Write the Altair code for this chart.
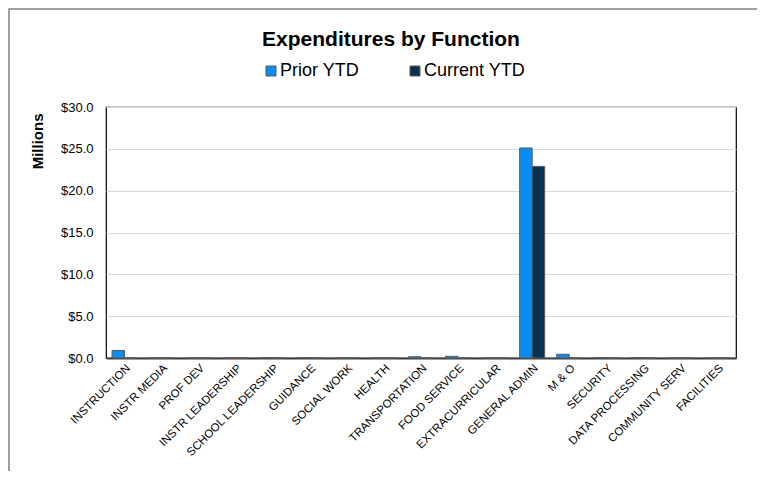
import altair as alt
import pandas as pd

categories = ["INSTRUCTION", "INSTR MEDIA", "PROF DEV", "INSTR LEADERSHIP", "SCHOOL LEADERSHIP",
              "GUIDANCE", "SOCIAL WORK", "HEALTH", "TRANSPORTATION", "FOOD SERVICE",
              "EXTRACURRICULAR", "GENERAL ADMIN", "M & O", "SECURITY", "DATA PROCESSING",
              "COMMUNITY SERV", "FACILITIES"]
prior_ytd = [0.9, 0.0, 0.0, 0.0, 0.04, 0.04, 0.0, 0.0, 0.15, 0.2, 0.0, 25.1, 0.45, 0.06, 0.06, 0.0, 0.0]
current_ytd = [0.0, 0.0, 0.0, 0.0, 0.0, 0.0, 0.0, 0.0, 0.0, 0.0, 0.0, 22.9, 0.0, 0.0, 0.0, 0.0, 0.0]
series = ["Prior YTD", "Current YTD"]
colors = ["#0a8cf5", "#0b3152"]
y_ticks = [0, 5, 10, 15, 20, 25, 30]

rows = []
for c, p, q in zip(categories, prior_ytd, current_ytd):
    rows.append({"Function": c, "Series": series[0], "Value": p})
    rows.append({"Function": c, "Series": series[1], "Value": q})
df = pd.DataFrame(rows)

FONT = "Liberation Sans"

bars = alt.Chart(df).mark_bar(stroke="#5a5a5a", strokeWidth=1).encode(
    x=alt.X("Function:N", sort=categories,
            scale=alt.Scale(paddingInner=0.325, paddingOuter=0.1625),
            axis=alt.Axis(title=None, labelAngle=-45, labelFontSize=11.5, labelFont=FONT,
                          labelColor="#000000", ticks=False, domain=True, domainColor="#404040",
                          domainWidth=2, labelPadding=4, labelOverlap=False, labelLimit=200)),
    xOffset=alt.XOffset("Series:N", sort=series, scale=alt.Scale(paddingInner=0, paddingOuter=0)),
    y=alt.Y("Value:Q", scale=alt.Scale(domain=[0, 30], nice=False),
            axis=alt.Axis(title="Millions", titleFont=FONT, titleFontSize=15, titleFontWeight="bold",
                          titleColor="#000000", values=y_ticks, format="$.1f",
                          labelFont=FONT, labelFontSize=13, labelColor="#000000", ticks=False,
                          domain=False, gridColor="#d9d9d9", gridWidth=1, labelPadding=13,
                          titleAnchor="end", titleAlign="right", titleX=-61, titleY=6)),
    color=alt.Color("Series:N", sort=series, scale=alt.Scale(domain=series, range=colors),
                    legend=alt.Legend(title=None, orient="none", direction="horizontal",
                                      legendX=156, legendY=-45, symbolType="square", symbolSize=100,
                                      symbolStrokeColor="#5a5a5a", symbolStrokeWidth=1,
                                      labelFont=FONT, labelFontSize=18, labelColor="#000000",
                                      columnPadding=46, labelOffset=0)),
)

frame = alt.Chart(pd.DataFrame({"a": [0]})).mark_rect(
    filled=False, fill="transparent", stroke="#808080", strokeWidth=1.5
).encode(x=alt.value(-97), x2=alt.value(900), y=alt.value(-98), y2=alt.value(600))

chart = alt.layer(frame, bars).properties(
    width=630, height=251,
    title=alt.TitleParams("Expenditures by Function", font=FONT, fontSize=21, fontWeight="bold",
                          color="#000000", anchor="middle", frame="group", dx=-30, offset=-42),
    padding={"left": 98, "top": 99, "right": 21, "bottom": 113},
    autosize=alt.AutoSizeParams(type="none"),
).configure_view(stroke="#000000", strokeWidth=1.2)

chart.save("out.html", embed_options={"renderer": "svg", "actions": False})
